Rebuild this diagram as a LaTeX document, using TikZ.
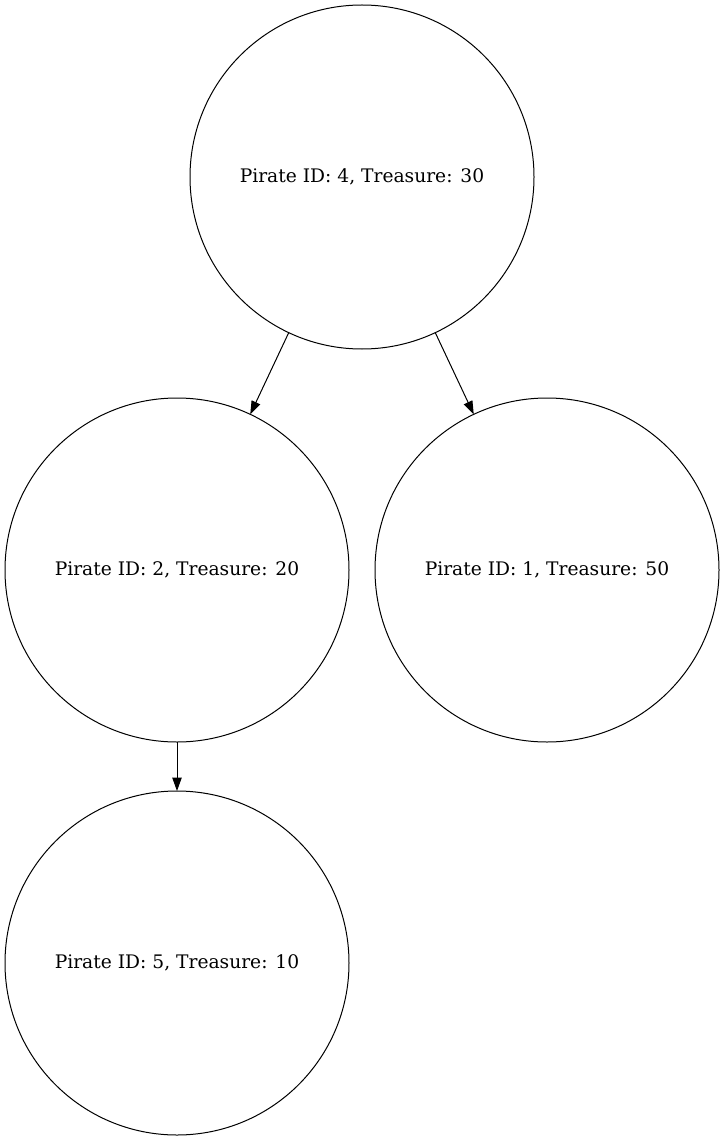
\documentclass[tikz,border=0pt]{standalone}
\usepackage{fontspec}
\setmainfont{DejaVu Serif}
\usetikzlibrary{arrows.meta}

\begin{document}
\begin{tikzpicture}[x = 0.75pt, y = -0.75pt, font = \fontsize{14pt}{16pt}\selectfont,
            pirate/.style = {draw, circle, minimum size = 258pt, inner sep = 0pt, outer sep = 0pt, line width = 0.75pt},
            link/.style = {line width = 0.75pt, -{Triangle[length = 10pt, width = 7pt]}}]
            \useasboundingbox (0,0) rectangle (725,1141);

            \node [pirate] (p4) at (362,177) {Pirate ID: 4, Treasure: 30};
            \node [pirate] (p2) at (177,570) {Pirate ID: 2, Treasure: 20};
            \node [pirate] (p1) at (547,570) {Pirate ID: 1, Treasure: 50};
            \node [pirate] (p5) at (177,963) {Pirate ID: 5, Treasure: 10};

            \draw [link] (p4) -- (p2);
            \draw [link] (p4) -- (p1);
            \draw [link] (p2) -- (p5);
        \end{tikzpicture}
\end{document}
